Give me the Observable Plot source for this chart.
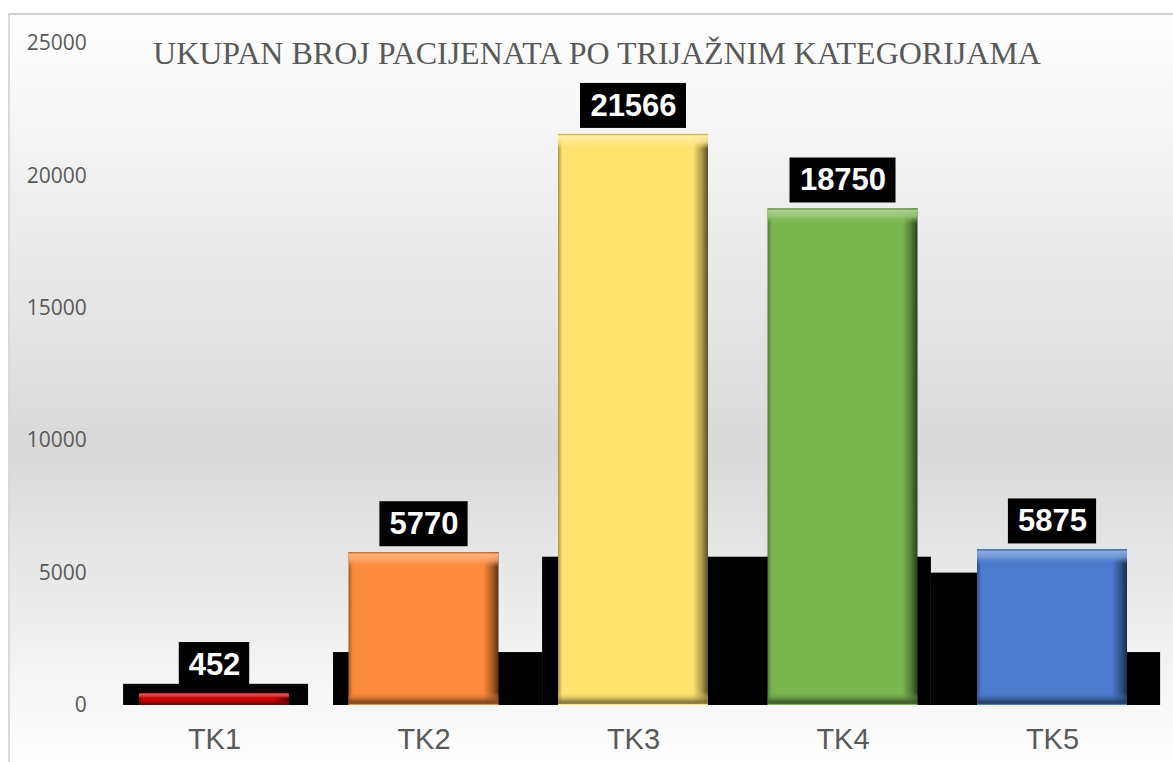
<!DOCTYPE html>
<html>
<head>
<meta charset="utf-8">
<script src="https://cdn.jsdelivr.net/npm/d3@7"></script>
<script src="https://cdn.jsdelivr.net/npm/@observablehq/plot@0.6"></script>
<style>
html, body { margin: 0; padding: 0; width: 1173px; height: 762px; overflow: hidden; background: #ffffff; }
#frame { position: absolute; left: 8px; top: 13px; width: 1200px; height: 749px;
  border-left: 2px solid #dadada; border-top: 2px solid #d2d2d2;
  background: linear-gradient(to bottom, #ffffff 0%, #d9d9d9 58%, #ffffff 100%); }
#chart { position: absolute; left: 0; top: 0; }
#title { position: absolute; left: 0; top: 37px; width: 1194px; text-align: center;
  font-family: "Liberation Serif", "Times New Roman", serif; font-size: 32px; line-height: 1; color: #595959; }
</style>
</head>
<body>
<div id="frame"></div>
<div id="chart"></div>
<div id="title">UKUPAN BROJ PACIJENATA PO TRIJAŽNIM KATEGORIJAMA</div>
<script>
// ---- data ----
const categories = ["TK1", "TK2", "TK3", "TK4", "TK5"];
const values = [452, 5770, 21566, 18750, 5875];
const barColors = ["#c80000", "#fb8a3c", "#ffe36f", "#7ab650", "#4a7bcd"];
const yTicks = [0, 5000, 10000, 15000, 20000, 25000];
// black shadow blocks behind the bars (category-index units, value units)
const shadowStart = [-0.434, 0.568, 1.566, 3.422, 4.0];
const shadowEnd = [0.449, 1.566, 3.422, 4.0, 4.516];
const shadowTop = [800, 2000, 5600, 5000, 2000];

// ---- tables built from the arrays ----
const bars = categories.map((c, i) => ({i, cat: c, value: values[i], color: barColors[i]}));
const shadows = shadowStart.map((s, k) => ({x1: s, x2: shadowEnd[k], top: shadowTop[k]}));

const half = 0.358; // bar half width in band units
const labelFont = '"Liberation Sans", Arial, sans-serif';

const marks = [
  Plot.rectY(shadows, {x1: "x1", x2: "x2", y1: 0, y2: "top", fill: "#000000"})
];
bars.forEach(d => {
  const w = 17.8 * String(d.value).length + 17;
  marks.push(
    Plot.rectY([d], {x1: r => r.i - half, x2: r => r.i + half, y1: 0, y2: "value", fill: `url(#hg${d.i})`}),
    Plot.rectY([d], {x1: r => r.i - half, x2: r => r.i + half, y1: 0, y2: "value", fill: `url(#vg${d.i})`}),
    Plot.rect([d], {x1: "i", x2: "i", y1: "value", y2: "value", fill: "#000000",
      insetLeft: -w / 2, insetRight: -w / 2, insetTop: -51, insetBottom: 6}),
    Plot.text([d], {x: "i", y: "value", text: r => String(r.value), dy: -28.5,
      fill: "#ffffff", fontWeight: "bold", fontSize: 31, fontFamily: labelFont})
  );
});
marks.push(
  Plot.axisY({ticks: yTicks, tickFormat: v => String(v), tickSize: 0, tickPadding: 23, fontSize: 21,
    fontFamily: '"Open Sans", sans-serif', color: "#595959", label: null}),
  Plot.axisX({ticks: categories.map((c, i) => i), tickFormat: i => categories[i], tickSize: 0, tickPadding: 23,
    fontSize: 29, fontFamily: labelFont, color: "#595959", label: null})
);

const chart = Plot.plot({
  width: 1173,
  height: 762,
  marginTop: 43,
  marginBottom: 57,
  marginLeft: 109.25,
  marginRight: 16.25,
  style: {background: "transparent", color: "#595959"},
  x: {type: "linear", domain: [-0.5, 4.5]},
  y: {domain: [0, 25000]},
  marks
});

// bevel gradients
const ys = chart.scale("y");
const defs = d3.select(chart).insert("defs", ":first-child");
const mix = (a, b, t) => d3.interpolateRgb(a, b)(t);
bars.forEach(d => {
  const c = d.color;
  const hg = defs.append("linearGradient").attr("id", "hg" + d.i)
    .attr("x1", 0).attr("x2", 1).attr("y1", 0).attr("y2", 0);
  [[0, mix(c, "#000", 0.35)], [0.012, mix(c, "#000", 0.2)], [0.03, c], [0.9, c],
   [0.955, mix(c, "#000", 0.3)], [1, mix(c, "#000", 0.65)]].forEach(([o, col]) =>
    hg.append("stop").attr("offset", o).attr("stop-color", col));
  const h = ys.apply(0) - ys.apply(d.value);
  const k = Math.min(1, h / 30);
  const vg = defs.append("linearGradient").attr("id", "vg" + d.i)
    .attr("x1", 0).attr("x2", 0).attr("y1", 0).attr("y2", 1);
  [[0, mix(c, "#000", 0.3), 1], [2 * k / h, mix(c, "#fff", 0.35), 1], [8 * k / h, mix(c, "#fff", 0.25), 0.85],
   [15 * k / h, c, 0], [1 - 13 * k / h, c, 0], [1 - 3 * k / h, mix(c, "#000", 0.5), 0.95],
   [1 - 1.2 * k / h, mix(c, "#000", 0.4), 1], [1 - 1 * k / h, c, 1], [1, c, 1]].forEach(([o, col, op]) =>
    vg.append("stop").attr("offset", o).attr("stop-color", col).attr("stop-opacity", op));
});

document.getElementById("chart").appendChild(chart);
</script>
</body>
</html>
